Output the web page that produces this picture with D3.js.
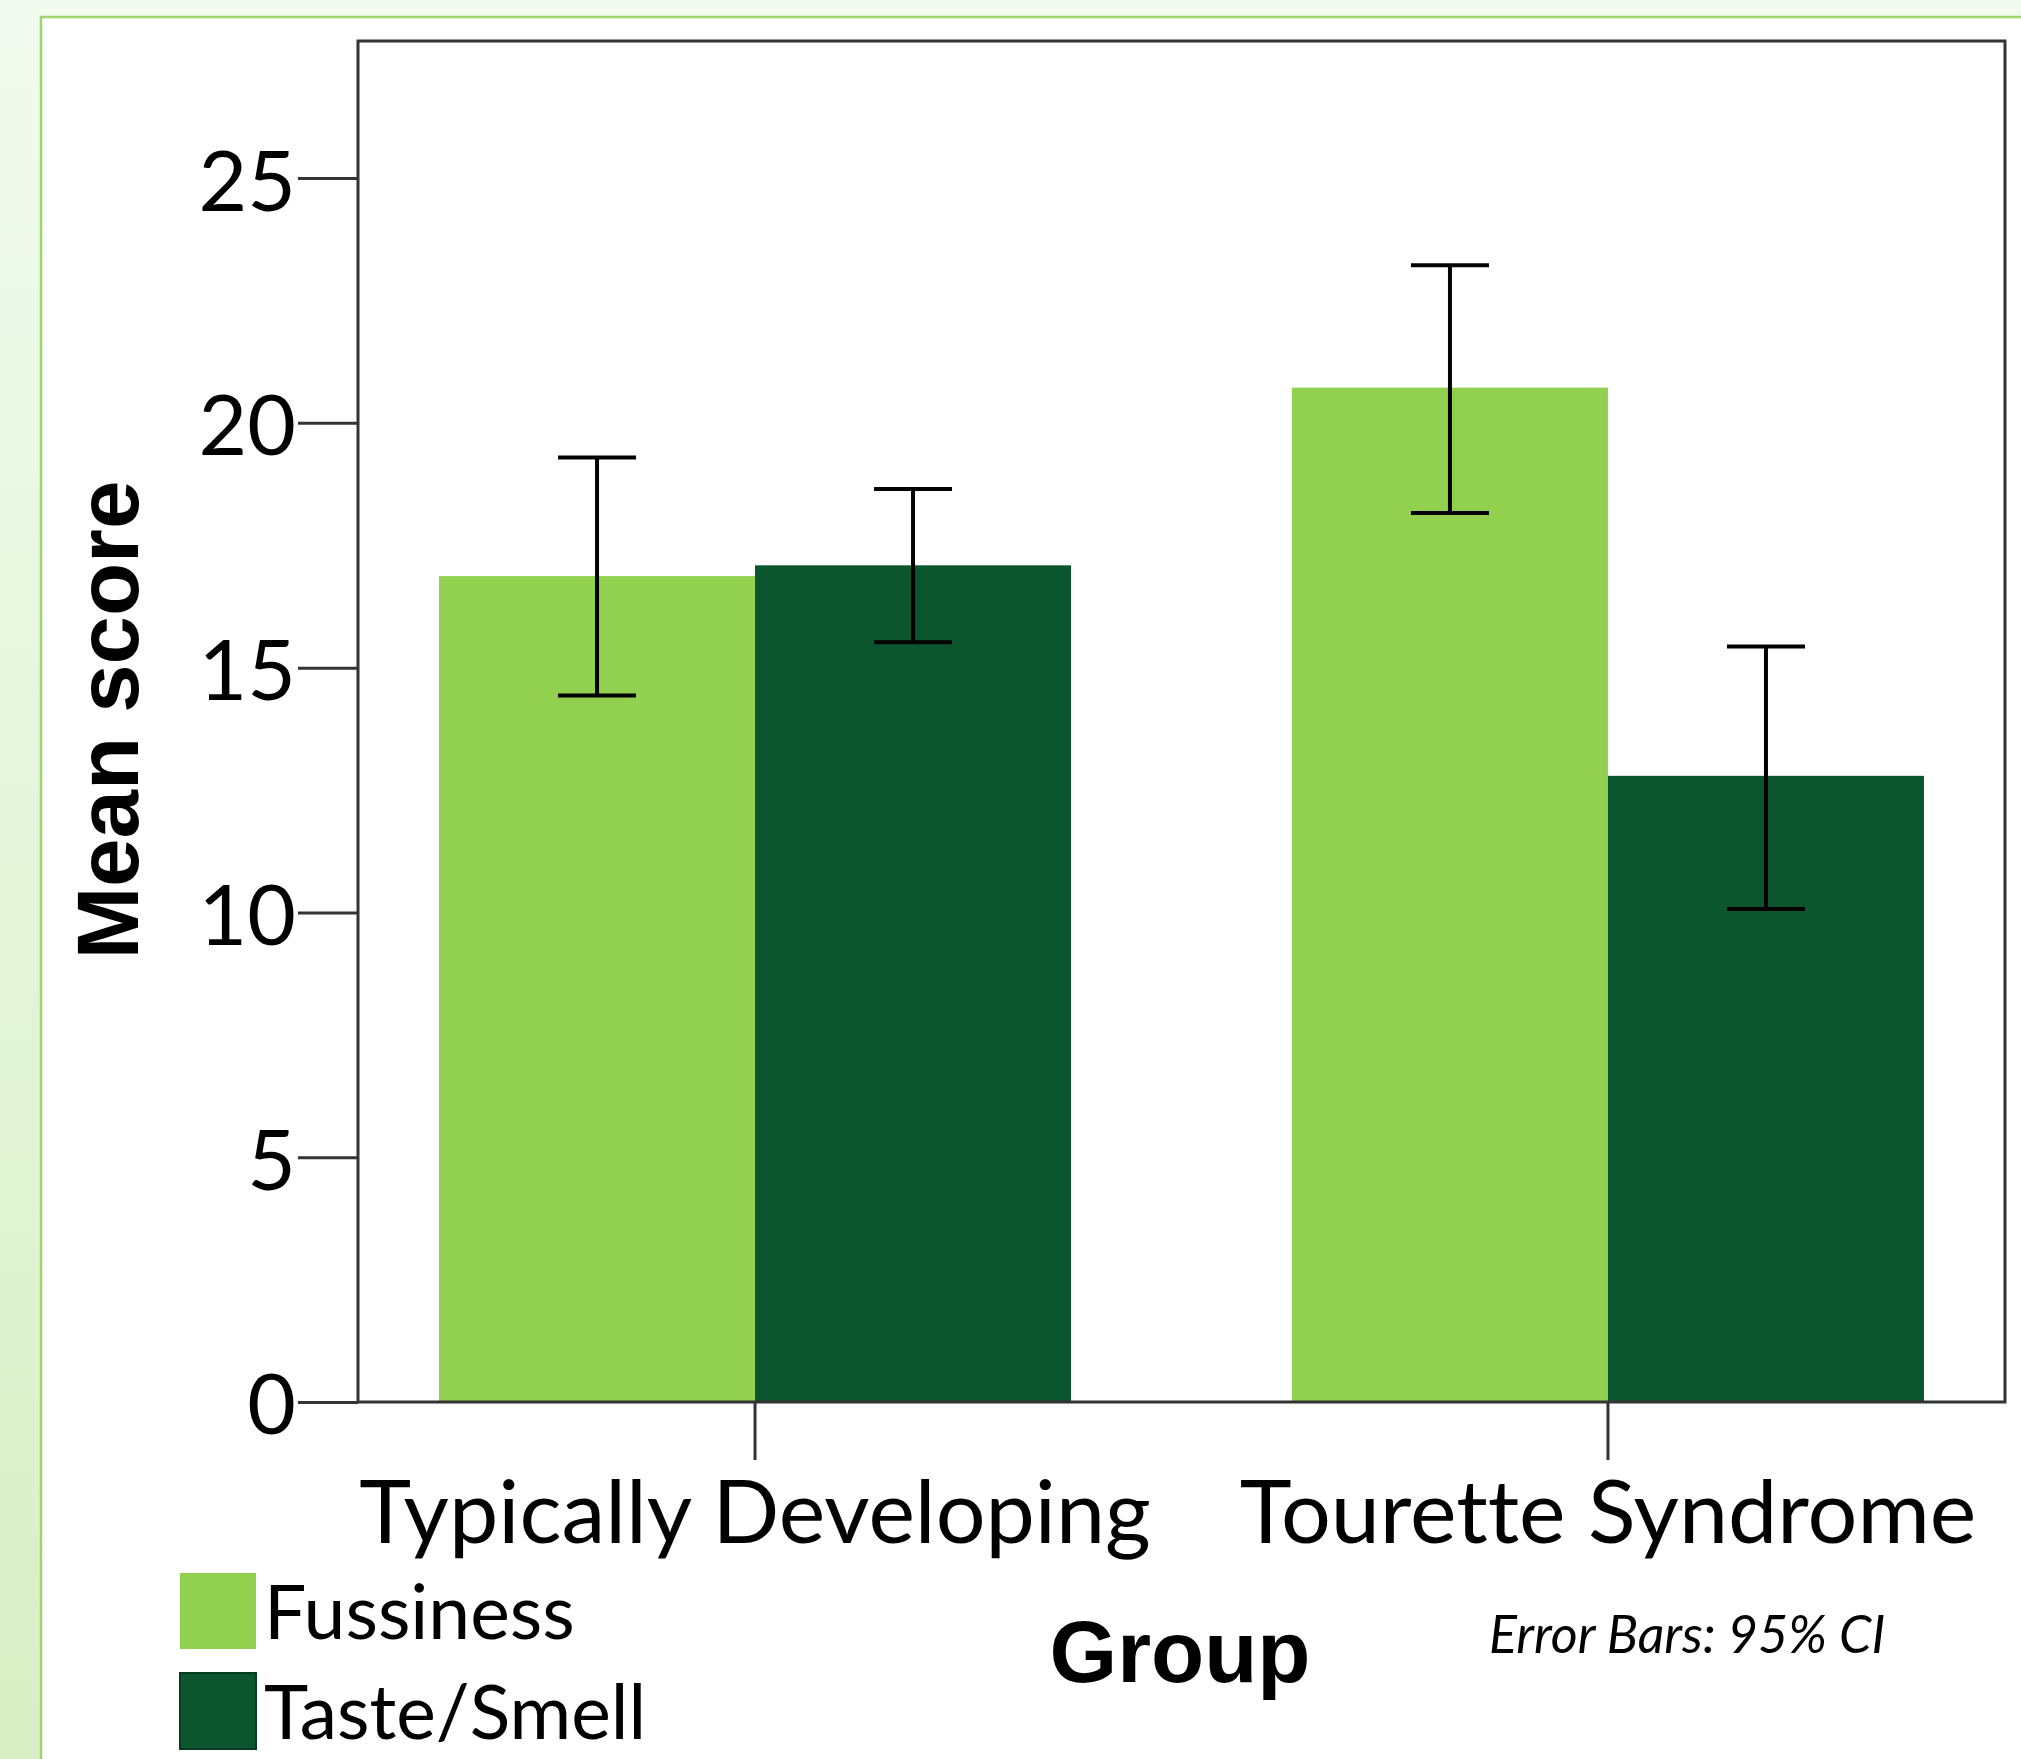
<!DOCTYPE html>
<html>
<head>
<meta charset="utf-8">
<script src="https://cdn.jsdelivr.net/npm/d3@7"></script>
<style>
    body { margin: 0; background: #ffffff; }
    svg { display: block; }
    text { font-variant-ligatures: none; font-feature-settings: "liga" 0, "clig" 0; }
</style>
</head>
<body>
<svg id="chart" width="2021" height="1759"></svg>
<script>
// Data
var groups = ["Typically Developing", "Tourette Syndrome"];
var series = ["Fussiness", "Taste/Smell"];
var fussMean = [16.87, 20.72];
var fussLow = [14.43, 18.16];
var fussHigh = [19.29, 23.22];
var tasteMean = [17.09, 12.79];
var tasteLow = [15.52, 10.07];
var tasteHigh = [18.65, 15.43];
var yTicks = [0, 5, 10, 15, 20, 25];

var colors = { "Fussiness": "#92d050", "Taste/Smell": "#0b562e" };
var tickFont = "Lato, 'Open Sans', sans-serif";
var boldFont = "'Liberation Sans', Arial, sans-serif";

function drawChart() {
    var svg = d3.select("#chart");
    var W = 2021, H = 1759;
    var left = 358, right = 2005, top = 41, bottom = 1402;

    // page background and the white panel
    var defs = svg.append("defs");
    var grad = defs.append("linearGradient").attr("id", "bg").attr("x1", 0).attr("y1", 0).attr("x2", 0).attr("y2", 1);
    grad.append("stop").attr("offset", "0%").attr("stop-color", "#f1fbef");
    grad.append("stop").attr("offset", "100%").attr("stop-color", "#d8efc5");
    svg.append("rect").attr("width", W).attr("height", H).attr("fill", "url(#bg)");
    svg.append("rect").attr("x", 41).attr("y", 17).attr("width", W).attr("height", H)
        .attr("fill", "#ffffff").attr("stroke", "#9fd56c").attr("stroke-width", 2.5);

    // build rows for the bars
    var rows = [];
    groups.forEach(function (g, i) {
        rows.push({ group: g, key: "Fussiness", mean: fussMean[i], lo: fussLow[i], hi: fussHigh[i] });
        rows.push({ group: g, key: "Taste/Smell", mean: tasteMean[i], lo: tasteLow[i], hi: tasteHigh[i] });
    });

    var y = d3.scaleLinear().domain([0, 27.8]).range([bottom, top]);
    var x0 = d3.scaleBand().domain(groups).range([left, right]).paddingInner(0.259).paddingOuter(0.095);
    var x1 = d3.scaleBand().domain(series).range([0, x0.bandwidth()]);

    // bars
    svg.append("g").selectAll("rect").data(rows).enter().append("rect")
        .attr("x", function (d) { return x0(d.group) + x1(d.key); })
        .attr("y", function (d) { return y(d.mean); })
        .attr("width", x1.bandwidth())
        .attr("height", function (d) { return y(0) - y(d.mean); })
        .attr("fill", function (d) { return colors[d.key]; });

    // error bars, 95% CI
    var capHalf = 39;
    var eb = svg.append("g").attr("stroke", "#000").attr("stroke-width", 4).attr("fill", "none");
    rows.forEach(function (d) {
        var cx = x0(d.group) + x1(d.key) + x1.bandwidth() / 2;
        eb.append("line").attr("x1", cx).attr("x2", cx).attr("y1", y(d.hi)).attr("y2", y(d.lo));
        eb.append("line").attr("x1", cx - capHalf).attr("x2", cx + capHalf).attr("y1", y(d.hi)).attr("y2", y(d.hi));
        eb.append("line").attr("x1", cx - capHalf).attr("x2", cx + capHalf).attr("y1", y(d.lo)).attr("y2", y(d.lo));
    });

    // plot frame
    svg.append("rect").attr("x", left).attr("y", top).attr("width", right - left).attr("height", bottom - top)
        .attr("fill", "none").attr("stroke", "#333").attr("stroke-width", 3);

    // y axis
    var yAxis = svg.append("g").attr("transform", "translate(" + left + ",0)")
        .call(d3.axisLeft(y).tickValues(yTicks).tickSize(60).tickPadding(2));
    yAxis.select(".domain").remove();
    yAxis.selectAll(".tick line").attr("stroke", "#333").attr("stroke-width", 3);
    yAxis.selectAll(".tick text").attr("font-family", tickFont).attr("font-size", 84).attr("fill", "#000").attr("dy", "0.38em");

    // x axis
    var xAxis = svg.append("g").attr("transform", "translate(0," + bottom + ")")
        .call(d3.axisBottom(x0).tickSize(58).tickPadding(21));
    xAxis.select(".domain").remove();
    xAxis.selectAll(".tick line").attr("stroke", "#333").attr("stroke-width", 3);
    xAxis.selectAll(".tick text").attr("font-family", tickFont).attr("font-size", 88).attr("fill", "#000");

    // axis titles
    svg.append("text").attr("transform", "translate(138,720) rotate(-90)")
        .attr("text-anchor", "middle").attr("font-family", boldFont).attr("font-weight", "bold")
        .attr("font-size", 87).text("Mean score");
    svg.append("text").attr("x", 1180).attr("y", 1682)
        .attr("text-anchor", "middle").attr("font-family", boldFont).attr("font-weight", "bold")
        .attr("font-size", 87).text("Group");

    // legend
    var leg = svg.append("g").selectAll("g").data(series).enter().append("g")
        .attr("transform", function (d, i) { return "translate(180," + (1573 + i * 100) + ")"; });
    leg.append("rect").attr("width", 76).attr("height", 76)
        .attr("fill", function (d) { return colors[d]; })
        .attr("stroke", function (d, i) { return i == 1 ? "#063b1f" : "none"; }).attr("stroke-width", 2);
    leg.append("text").attr("x", 84).attr("y", 66)
        .attr("font-family", tickFont).attr("font-size", 75).text(function (d) { return d; });

    // note
    svg.append("text").attr("x", 1489).attr("y", 1653)
        .attr("font-family", tickFont).attr("font-style", "italic").attr("font-size", 52)
        .text("Error Bars: 95% CI");
}

drawChart();
</script>
</body>
</html>
